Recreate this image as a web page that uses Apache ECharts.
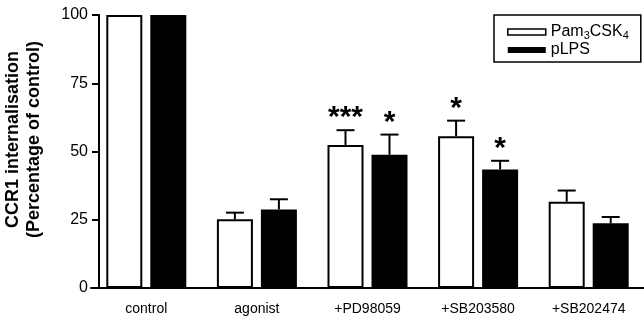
<!DOCTYPE html>
<html>
<head>
<meta charset="utf-8">
<script src="https://cdn.jsdelivr.net/npm/echarts@6/dist/echarts.min.js"></script>
<style>
  html, body { margin: 0; padding: 0; background: #fff; }
  #chart { width: 644px; height: 320px; }
</style>
</head>
<body>
<div id="chart"></div>
<script>
// CCR1 internalisation bars with SEM error bars
const categories = ['control', 'agonist', '+PD98059', '+SB203580', '+SB202474'];
const pamMean = [100, 25.2, 52.4, 55.6, 31.6];
const pamSem = [0, 2.4, 5.4, 5.7, 4.1];
const pamStars = [0, 0, 3, 1, 0];
const lpsMean = [100, 28.8, 48.8, 43.4, 23.7];
const lpsSem = [0, 3.7, 7.4, 3.2, 2.3];
const lpsStars = [0, 0, 1, 1, 0];
const yTicks = [0, 25, 50, 75, 100];

const barW = 36;
const barGap = 8;
const half = (barW + barGap) / 2;

const chart = echarts.init(document.getElementById('chart'));

function errorRender(shift) {
  return function (params, api) {
    const cat = api.value(0);
    const mean = api.value(1);
    const sem = api.value(2);
    const stars = api.value(3);
    const top = api.coord([cat, mean]);
    const cap = api.coord([cat, mean + sem]);
    const x = top[0] + shift;
    const children = [];
    if (sem > 0) {
      children.push({
        type: 'line',
        shape: { x1: x, y1: top[1], x2: x, y2: cap[1] },
        style: { stroke: '#000', lineWidth: 2 }
      });
      children.push({
        type: 'line',
        shape: { x1: x - 9, y1: cap[1], x2: x + 9, y2: cap[1] },
        style: { stroke: '#000', lineWidth: 2 }
      });
    }
    if (stars > 0) {
      children.push({
        type: 'text',
        x: x,
        y: cap[1] + 3,
        style: {
          text: '*'.repeat(stars),
          textAlign: 'center',
          textVerticalAlign: 'bottom',
          fontSize: 30,
          fontWeight: 'bold',
          fontFamily: 'Liberation Sans',
          fill: '#000'
        }
      });
    }
    return { type: 'group', children: children };
  };
}

const pamErr = categories.map((c, i) => [i, pamMean[i], pamSem[i], pamStars[i]]);
const lpsErr = categories.map((c, i) => [i, lpsMean[i], lpsSem[i], lpsStars[i]]);

const option = {
  animation: false,
  backgroundColor: '#fff',
  textStyle: { fontFamily: 'Liberation Sans', color: '#000' },
  grid: [
    { left: 91, top: 15, width: 560, height: 273 },
    // only carries the visible y axis
    { left: 99, top: 15, width: 1, height: 273 }
  ],
  legend: {
    orient: 'vertical',
    left: 494,
    top: 15,
    padding: [9, 12, 4, 13],
    itemGap: 1,
    itemWidth: 38,
    itemHeight: 6,
    borderColor: '#000',
    borderWidth: 1.5,
    icon: 'rect',
    textStyle: {
      fontSize: 16,
      color: '#000',
      rich: {
        n: { fontSize: 16, color: '#000' },
        s: { fontSize: 11, color: '#000', verticalAlign: 'bottom', padding: [7, 0, 0, 0] }
      }
    },
    formatter: function (name) {
      if (name === 'Pam3CSK4') return '{n|Pam}{s|3}{n|CSK}{s|4}';
      return name;
    },
    data: [
      { name: 'Pam3CSK4', itemStyle: { color: '#fff', borderColor: '#000', borderWidth: 1.5 } },
      { name: 'pLPS', itemStyle: { color: '#000' } }
    ]
  },
  xAxis: [
    {
      type: 'category',
      data: categories,
      axisLine: { lineStyle: { color: '#000', width: 2 } },
      axisTick: { show: false },
      axisLabel: { fontSize: 14, color: '#000', margin: 14 }
    },
    { type: 'value', gridIndex: 1, show: false }
  ],
  yAxis: [
    { type: 'value', min: 0, max: 100, interval: 25, show: false },
    {
      type: 'value',
      gridIndex: 1,
      min: 0,
      max: 100,
      interval: 25,
      name: 'CCR1 internalisation\n(Percentage of control)',
      nameLocation: 'middle',
      nameGap: 54,
      nameTextStyle: {
        fontSize: 18,
        fontWeight: 'bold',
        color: '#000',
        lineHeight: 21,
        padding: [0, 0, 0, 24]
      },
      axisLine: { show: true, lineStyle: { color: '#000', width: 2 } },
      axisTick: { show: true, length: 7, lineStyle: { color: '#000', width: 2 } },
      axisLabel: {
        fontSize: 16,
        color: '#000',
        margin: 11,
        formatter: function (v) { return yTicks.indexOf(v) >= 0 ? String(v) : ''; }
      },
      splitLine: { show: false }
    }
  ],
  series: [
    {
      name: 'Pam3CSK4',
      type: 'bar',
      data: pamMean,
      barWidth: barW,
      barGap: (barGap / barW * 100) + '%',
      itemStyle: { color: '#fff', borderColor: '#000', borderWidth: 2 }
    },
    {
      name: 'pLPS',
      type: 'bar',
      data: lpsMean,
      barWidth: barW,
      itemStyle: { color: '#000' }
    },
    {
      type: 'custom',
      data: pamErr,
      renderItem: errorRender(-half),
      z: 5,
      silent: true
    },
    {
      type: 'custom',
      data: lpsErr,
      renderItem: errorRender(half),
      z: 5,
      silent: true
    }
  ]
};
chart.setOption(option);
</script>
</body>
</html>
